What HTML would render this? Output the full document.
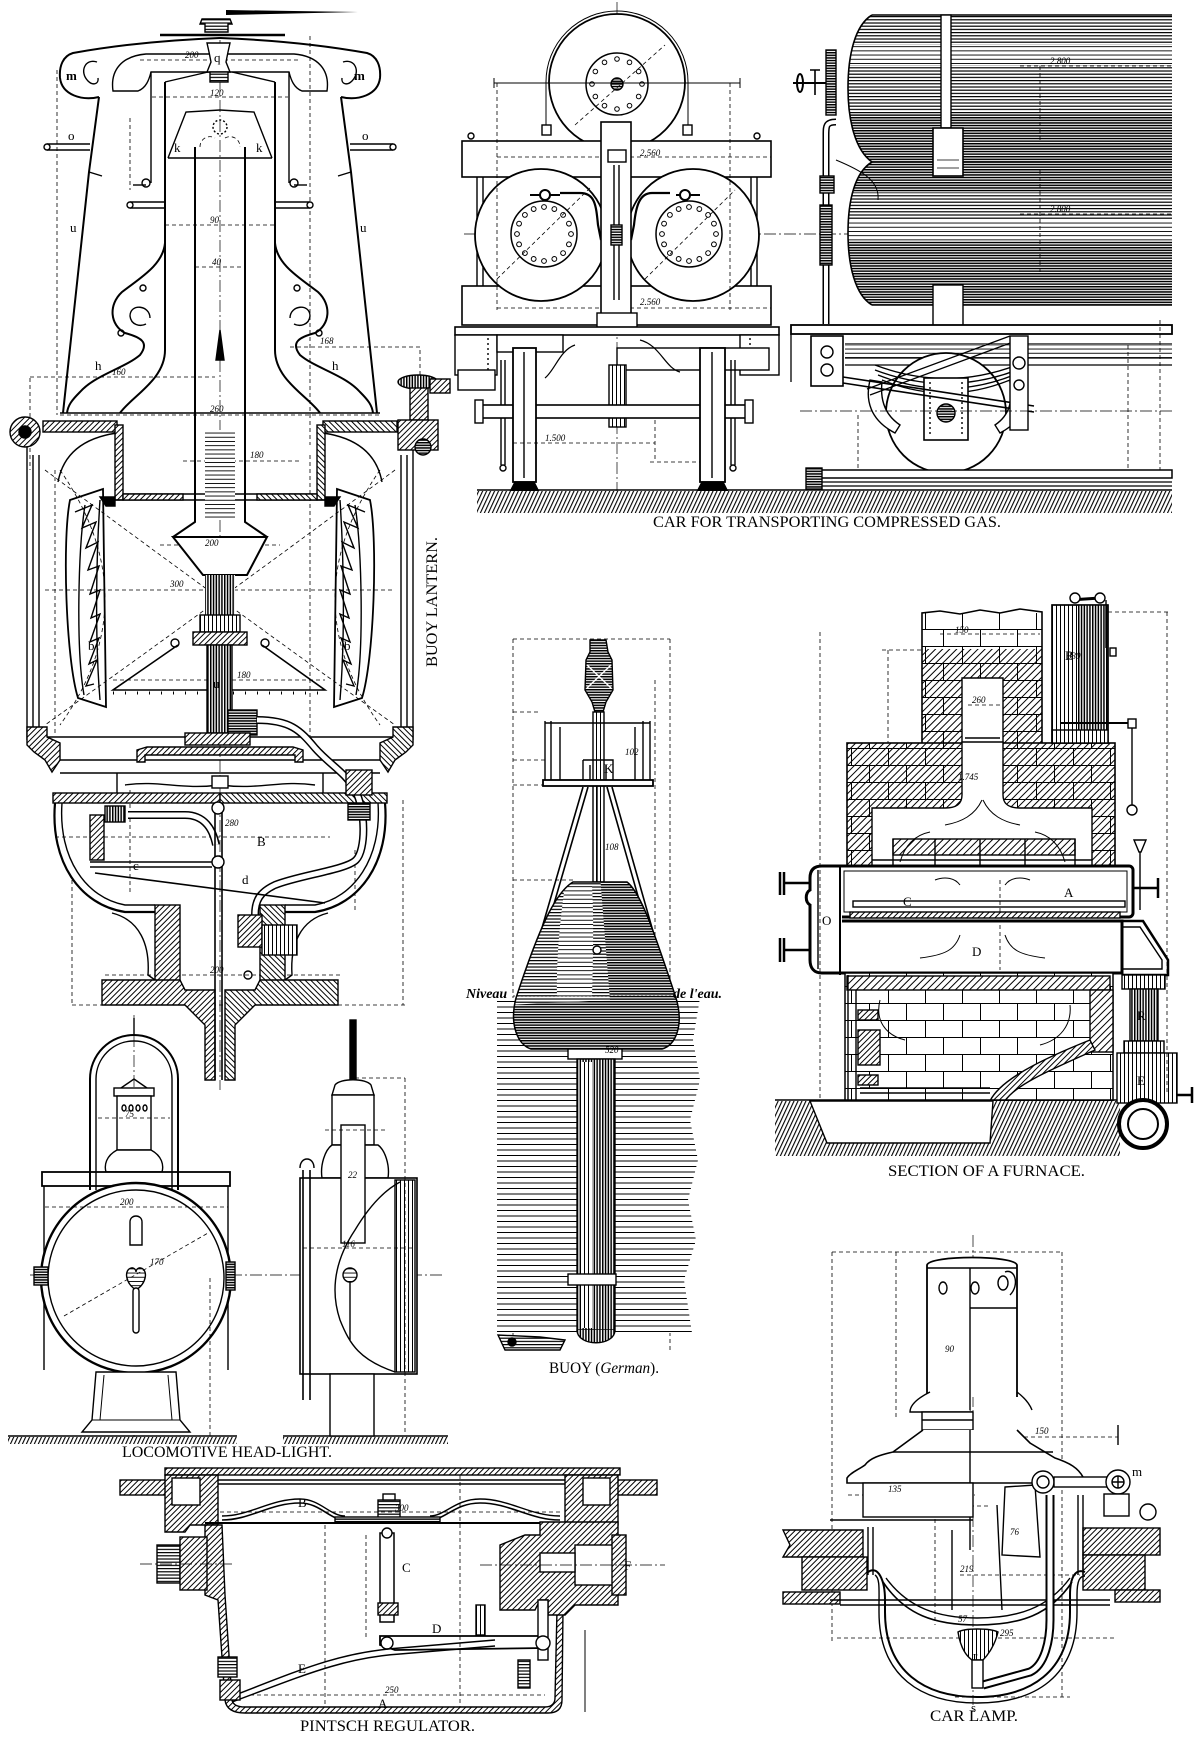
<!DOCTYPE html>
<html><head><meta charset="utf-8">
<style>
html,body{margin:0;padding:0;background:#fff;width:1200px;height:1737px;overflow:hidden}
svg{display:block}
.t{font-family:"Liberation Serif",serif;fill:#000;stroke:none}
.lb{font-size:16px}
.dm{font-size:9px;font-style:italic}
.lt{font-size:13px}
.ds{stroke-dasharray:4 3;stroke-width:.8}
.dd{stroke-dasharray:12 3 2 3;stroke-width:.7}
.th{stroke-width:.8}
</style></head><body>
<svg width="1200" height="1737" viewBox="0 0 1200 1737" xmlns="http://www.w3.org/2000/svg">
<defs>
<pattern id="ht" width="4" height="4" patternUnits="userSpaceOnUse" patternTransform="rotate(45)"><rect width="4" height="4" fill="#fff"/><rect width="1" height="4" fill="#000"/></pattern>
<pattern id="ht5" width="5" height="5" patternUnits="userSpaceOnUse" patternTransform="rotate(45)"><rect width="5" height="5" fill="#fff"/><rect width="1" height="5" fill="#000"/></pattern>
<pattern id="gr" width="3.6" height="4" patternUnits="userSpaceOnUse" patternTransform="rotate(25)"><rect width="3.6" height="4" fill="#fff"/><rect width="1.1" height="4" fill="#000"/></pattern>
<pattern id="hd" width="8" height="2.6" patternUnits="userSpaceOnUse"><rect width="8" height="2.6" fill="#fff"/><rect width="8" height="1.5" fill="#000"/></pattern>
<pattern id="hm" width="8" height="3.2" patternUnits="userSpaceOnUse"><rect width="8" height="3.2" fill="#fff"/><rect width="8" height="1.2" fill="#000"/></pattern>
<pattern id="hl" width="8" height="4.2" patternUnits="userSpaceOnUse"><rect width="8" height="4.2" fill="#fff"/><rect width="8" height="0.9" fill="#000"/></pattern>
<pattern id="wt" width="8" height="5.5" patternUnits="userSpaceOnUse"><rect width="8" height="5.5" fill="#fff"/><rect width="8" height="1" fill="#000"/></pattern>
<pattern id="vd" width="2.8" height="8" patternUnits="userSpaceOnUse"><rect width="2.8" height="8" fill="#fff"/><rect width="1.5" height="8" fill="#000"/></pattern>
<pattern id="vm" width="4" height="8" patternUnits="userSpaceOnUse"><rect width="4" height="8" fill="#fff"/><rect width="1" height="8" fill="#000"/></pattern>
<pattern id="br" width="74" height="34" patternUnits="userSpaceOnUse"><path d="M0,.5H74M0,17.5H74M.5,0V17M37.5,0V17M18.5,17V34M55.5,17V34" stroke="#000" stroke-width="1" fill="none"/></pattern>
<clipPath id="tc"><path d="M872,15 L1172,15 L1172,162 L872,162 C855,150 848,120 848,88 C848,55 855,25 872,15 Z M872,162 L1172,162 L1172,305 L872,305 C855,295 848,265 848,233 C848,200 855,172 872,162 Z"/></clipPath>
<clipPath id="cc"><path d="M573,882 L627,882 C640,892 652,925 676,998 C684,1025 676,1045 662,1049 L531,1049 C518,1045 509,1025 516,998 C540,925 556,892 573,882 Z"/></clipPath>
<g id="b12" fill="#fff" stroke="#000" stroke-width="1">
<circle cx="25" cy="0" r="2.3"/><circle cx="25" cy="0" r="2.3" transform="rotate(30)"/><circle cx="25" cy="0" r="2.3" transform="rotate(60)"/><circle cx="25" cy="0" r="2.3" transform="rotate(90)"/><circle cx="25" cy="0" r="2.3" transform="rotate(120)"/><circle cx="25" cy="0" r="2.3" transform="rotate(150)"/><circle cx="25" cy="0" r="2.3" transform="rotate(180)"/><circle cx="25" cy="0" r="2.3" transform="rotate(210)"/><circle cx="25" cy="0" r="2.3" transform="rotate(240)"/><circle cx="25" cy="0" r="2.3" transform="rotate(270)"/><circle cx="25" cy="0" r="2.3" transform="rotate(300)"/><circle cx="25" cy="0" r="2.3" transform="rotate(330)"/>
</g>
<g id="b16" fill="#fff" stroke="#000" stroke-width="1">
<circle cx="27" cy="0" r="2.4"/><circle cx="27" cy="0" r="2.4" transform="rotate(22.5)"/><circle cx="27" cy="0" r="2.4" transform="rotate(45)"/><circle cx="27" cy="0" r="2.4" transform="rotate(67.5)"/><circle cx="27" cy="0" r="2.4" transform="rotate(90)"/><circle cx="27" cy="0" r="2.4" transform="rotate(112.5)"/><circle cx="27" cy="0" r="2.4" transform="rotate(135)"/><circle cx="27" cy="0" r="2.4" transform="rotate(157.5)"/><circle cx="27" cy="0" r="2.4" transform="rotate(180)"/><circle cx="27" cy="0" r="2.4" transform="rotate(202.5)"/><circle cx="27" cy="0" r="2.4" transform="rotate(225)"/><circle cx="27" cy="0" r="2.4" transform="rotate(247.5)"/><circle cx="27" cy="0" r="2.4" transform="rotate(270)"/><circle cx="27" cy="0" r="2.4" transform="rotate(292.5)"/><circle cx="27" cy="0" r="2.4" transform="rotate(315)"/><circle cx="27" cy="0" r="2.4" transform="rotate(337.5)"/>
</g>
</defs>
<rect width="1200" height="1737" fill="#fff"/>

<g fill="none" stroke="#000" stroke-width="1.4">

<!-- ================= BUOY LANTERN ================= -->
<path class="ds" d="M57,70 V415 M310,36 V445 M420,350 V405 M55,470 V735 M310,455 V740 M140,60 H300 M152,97 H288 M165,225 H275 M195,267 H245 M290,347 H420 M30,377 H215 M60,415 H380 M183,461 H300 M45,590 H395 M160,545 H280 M72,880 V1005 M403,800 V1005 M72,1005 H405 M105,975 H340 M55,837 H330 M130,790 V895 M355,850 V910 M30,378 V470 M130,118 V190"/>
<path class="ds" d="M45,470 Q220,600 395,725 M395,470 Q220,600 45,725 M60,470 Q150,600 60,725 M380,470 Q290,600 380,725"/>
<path class="dd" d="M220,40 V1090"/>

<g id="LH">
<path d="M220,38 Q140,41 73,53 C63,56 59,66 60,78 C62,95 82,101 99,97" stroke-width="2"/>
<path d="M97,62 C85,58 79,72 88,81 C93,86 99,84 98,78"/>
<path d="M99,97 L89,172 L63,413" stroke-width="2"/>
<path d="M89,172 L102,176"/>
<path d="M220,54 L146,54 C122,56 110,70 113,91 L138,91 C146,88 149,80 151,72 L220,72"/>
<path d="M151,72 L151,183"/>
<path d="M165,82 L208,72"/>
<path d="M165,82 L165,350 C165,380 132,396 120,413" stroke-width="2"/>
<path d="M168,158 L186,112 L220,110 M168,158 L220,158"/>
<path d="M195,147 L195,522 L173,537" stroke-width="2"/>
<path d="M165,243 C163,265 140,278 122,292 C108,305 110,325 125,333 C140,337 150,342 140,355 C125,368 95,375 80,392 C72,400 68,405 67,413" stroke-width="2"/>
<path d="M150,318 C150,305 130,303 130,316 C131,325 140,327 146,324"/>
<circle cx="121" cy="333" r="3"/>
<circle cx="143" cy="288" r="3"/>
<path d="M47,144 L90,144 M47,150 L90,150"/>
<circle cx="47" cy="147" r="3" fill="#fff"/>
<path d="M130,202 L165,202 M130,208 L165,208"/>
<circle cx="130" cy="205" r="3" fill="#fff"/>
<circle cx="146" cy="183" r="4" fill="#fff"/>
<path d="M133,185 L146,185"/>
<line x1="60" y1="413" x2="220" y2="413"/>
<rect x="43" y="421" width="74" height="11" fill="url(#ht)"/>
<path d="M117,433 C82,438 63,455 58,482"/>
<rect x="115" y="425" width="8" height="75" fill="url(#ht)"/>
<path d="M115,500 L220,500 M123,494 L220,494"/>
<rect x="123" y="494" width="60" height="6" fill="url(#ht)"/>
<path d="M100,497 L115,497 L115,506 L106,506 Z" fill="#000"/>
<path d="M33,455 L33,730 M39,455 L39,730"/>
<path d="M27,440 L27,740"/>
<path d="M70,500 L103,489 L106,707 L78,698 C66,660 62,540 70,500 Z" stroke-width="1.8"/>
<path d="M75,512 L92,505 L82,528 L96,522 L86,548 L98,542 L88,570 L99,566 L90,594 L100,590 L91,618 L100,614 L90,642 L99,638 L89,664 L97,660 L86,686 L94,684" stroke-width="1.4"/>
<path d="M85,505 C78,550 76,650 84,695"/>
<path d="M100,500 C96,560 95,640 100,700"/>
<path d="M27,727 L47,727 L47,737 L60,743 L60,760 L52,772 L45,760 L34,752 L27,745 Z" fill="url(#ht)"/>
<line x1="47" y1="737" x2="220" y2="737"/>
<line x1="60" y1="760" x2="220" y2="760"/>
<path d="M60,773 L117,773 L117,793 M117,773 L220,773"/>
<rect x="53" y="793" width="167" height="10" fill="url(#ht)"/>
<path d="M55,803 C50,862 80,905 125,912 L155,912" stroke-width="2.2"/>
<path d="M62,803 C58,858 86,898 125,905 L155,905"/>
<rect x="155" y="905" width="25" height="78" fill="url(#ht)"/>
<path d="M112,913 C140,920 150,945 148,975 L155,980"/>
<path d="M102,980 L180,980 L185,990 L215,990 L215,1080 L205,1080 L205,1025 L185,1005 L102,1005 Z" fill="url(#ht)"/>
</g>
<use href="#LH" transform="translate(440,0) scale(-1,1)"/>

<path d="M202,19 L230,19 L232,24 L228,24 L228,32 L205,32 L205,24 L200,24 Z" fill="url(#hm)"/>
<line x1="160" y1="35" x2="285" y2="35" stroke-width="2.5"/>
<path d="M226,10 L358,12 L226,15 Z" fill="#000" stroke="none"/>
<path d="M207,43 L230,43 L228,52 L226,62 L230,72 L207,72 L211,62 L209,52 Z" fill="#fff"/>
<rect x="210" y="72" width="18" height="10" fill="url(#hm)"/>
<circle cx="220" cy="127" r="7" stroke-dasharray="2 2"/>
<path d="M200,147 A10,10 0 0 1 215,138 M225,138 A10,10 0 0 1 240,147" class="ds"/>
<rect x="205" y="430" width="30" height="88" fill="url(#hl)" stroke="none"/>
<path d="M220,330 L216,360 L224,360 Z" fill="#000"/>
<path d="M173,537 L267,537 L247,575 L203,575 Z" stroke-width="2" fill="#fff"/>
<rect x="205" y="575" width="30" height="40" fill="url(#vd)" stroke="none"/>
<rect x="200" y="615" width="40" height="17" fill="url(#vm)"/>
<rect x="193" y="632" width="54" height="13" fill="url(#ht)"/>
<circle cx="175" cy="643" r="4"/><circle cx="265" cy="643" r="4"/>
<path d="M178,645 L113,690 L325,690 L262,645" stroke-width="1.6"/>
<line x1="113" y1="693" x2="325" y2="693" stroke-dasharray="1 11" stroke-width="3"/>
<path class="ds" d="M113,680 H325"/>
<rect x="207" y="645" width="25" height="88" fill="url(#vd)"/>
<rect x="228" y="710" width="29" height="25" fill="url(#hd)"/>
<rect x="185" y="733" width="65" height="12" fill="url(#ht)"/>
<path d="M137,762 L137,750 L147,747 L293,747 L303,750 L303,762 L295,762 L295,755 L145,755 L145,762 Z" fill="url(#ht)"/>
<path d="M125,785 C160,780 180,790 220,785 C260,790 280,780 315,785"/>
<rect x="212" y="776" width="16" height="12" fill="#fff"/>
<path d="M257,720 C290,720 300,730 315,748 C330,765 345,772 355,790 C366,810 366,850 356,860 C346,870 300,875 275,885 C260,892 255,900 255,915" stroke-width="8"/>
<path d="M257,720 C290,720 300,730 315,748 C330,765 345,772 355,790 C366,810 366,850 356,860 C346,870 300,875 275,885 C260,892 255,900 255,915" stroke="#fff" stroke-width="5"/>
<path d="M128,815 L185,815 C205,815 213,830 216,845" stroke-width="8"/>
<path d="M128,815 L185,815 C205,815 213,830 216,845" stroke="#fff" stroke-width="5"/>
<rect x="346" y="770" width="26" height="25" fill="url(#ht)"/>
<rect x="348" y="803" width="22" height="17" fill="url(#hd)"/>
<path d="M215,805 L215,1080 M222,805 L222,1080" stroke-width="1.6"/>
<circle cx="218" cy="808" r="6" fill="#fff"/><circle cx="218" cy="862" r="6" fill="#fff"/>
<path d="M90,862 L212,862 M90,867 L212,867"/>
<path d="M95,873 L325,903" stroke-width="1.6"/>
<rect x="90" y="815" width="14" height="45" fill="url(#ht)"/>
<rect x="105" y="806" width="20" height="16" fill="url(#vd)"/>
<rect x="238" y="915" width="24" height="32" fill="url(#ht)"/>
<rect x="262" y="925" width="35" height="30" fill="url(#vm)"/>
<circle cx="248" cy="975" r="4"/>
<circle cx="25" cy="432" r="15" fill="url(#ht)"/><circle cx="25" cy="432" r="6" fill="#000"/>
<ellipse cx="418" cy="382" rx="20" ry="7" fill="url(#vd)"/>
<rect x="410" y="388" width="18" height="32" fill="url(#ht)"/>
<rect x="398" y="420" width="40" height="30" fill="url(#ht)"/>
<circle cx="423" cy="447" r="8" fill="url(#hd)"/>

<!-- ================= CAR ================= -->
<line class="dd" x1="617" y1="2" x2="617" y2="505"/>
<line class="dd" x1="464" y1="234" x2="1172" y2="234"/>
<path d="M546,131 L546,82 A71,71 0 0 1 688,82 L688,131" stroke-width="1"/>
<rect x="542" y="125" width="9" height="10" fill="#fff"/><rect x="683" y="125" width="9" height="10" fill="#fff"/>
<circle cx="617" cy="82" r="68" fill="#fff" stroke-width="1.8"/>
<circle cx="617" cy="84" r="31" stroke-width="1.5"/>
<use href="#b12" x="617" y="84"/>
<circle cx="617" cy="84" r="6" fill="url(#hd)"/>
<path class="ds" d="M575,125 L665,45"/>
<path d="M494,83 H740 M494,78 V88 M740,78 V88" stroke-width="1"/>
<rect x="462" y="141" width="309" height="36" fill="#fff" stroke-width="1.6"/>
<rect x="462" y="286" width="309" height="39" fill="#fff" stroke-width="1.6"/>
<path d="M477,177 V286 M483,177 V286 M751,177 V286 M757,177 V286"/>
<circle cx="471" cy="136" r="3" fill="#fff"/><circle cx="757" cy="136" r="3" fill="#fff"/>
<circle cx="541" cy="235" r="66" fill="#fff" stroke-width="1.8"/>
<circle cx="693" cy="235" r="66" fill="#fff" stroke-width="1.8"/>
<circle cx="544" cy="234" r="33" stroke-width="1.5"/>
<circle cx="689" cy="234" r="33" stroke-width="1.5"/>
<use href="#b16" x="544" y="234"/>
<use href="#b16" x="689" y="234"/>
<path class="ds" d="M497,279 L590,188 M645,279 L735,190 M497,157 H771 M497,308 H771 M497,83 V310 M730,83 V310"/>
<path d="M530,195 H560 M676,195 H700" stroke-width="2"/>
<circle cx="545" cy="195" r="5" fill="#fff" stroke-width="2"/><circle cx="685" cy="195" r="5" fill="#fff" stroke-width="2"/>
<path d="M560,193 L580,193 C595,193 596,205 598,225 L601,240 M670,193 L652,193 C640,193 636,205 634,225 L631,240" stroke-width="2.2"/>
<rect x="601" y="122" width="30" height="202" fill="#fff" stroke-width="1.6"/>
<path d="M614,165 V300 M619,165 V300"/>
<rect x="608" y="150" width="18" height="12" fill="#fff"/>
<rect x="611" y="225" width="11" height="20" fill="url(#hd)"/>
<rect x="597" y="313" width="40" height="17" fill="#fff"/>
<rect x="455" y="327" width="324" height="8" fill="#fff" stroke-width="1.6"/>
<rect x="455" y="335" width="42" height="40" fill="#fff"/>
<rect x="740" y="335" width="39" height="40" fill="#fff"/>
<line x1="488" y1="338" x2="488" y2="372" stroke-dasharray="2 3"/>
<line x1="750" y1="338" x2="750" y2="372" stroke-dasharray="2 3"/>
<rect x="497" y="335" width="66" height="17" fill="#fff"/>
<rect x="617" y="348" width="152" height="22" fill="#fff"/>
<rect x="609" y="365" width="17" height="62" fill="url(#vm)"/>
<path d="M575,345 C560,350 555,370 545,378 M640,340 C660,345 665,368 680,372" stroke-width="1.2"/>
<rect x="458" y="370" width="37" height="20" fill="#fff"/>
<rect x="430" y="379" width="20" height="14" fill="url(#ht)"/>
<path d="M501,360 V465 M505,360 V465 M731,360 V465 M735,360 V465"/>
<circle cx="503" cy="468" r="3"/><circle cx="733" cy="468" r="3"/>
<rect x="479" y="405" width="270" height="13" fill="#fff" stroke-width="1.6"/>
<rect x="475" y="400" width="8" height="23" fill="#fff"/><rect x="745" y="400" width="8" height="23" fill="#fff"/>
<rect x="513" y="348" width="23" height="134" fill="#fff" stroke-width="1.8"/>
<rect x="700" y="348" width="25" height="134" fill="#fff" stroke-width="1.8"/>
<path d="M524,352 V478 M712,352 V478"/>
<path d="M510,492 L515,482 L534,482 L539,492 Z M697,492 L702,482 L723,482 L728,492 Z" fill="#000"/>
<path class="ds" d="M513,443 H655 M655,420 V462 M650,462 H700"/>
<rect x="477" y="491" width="695" height="22" fill="url(#gr)" stroke="none"/>
<line x1="477" y1="490" x2="1172" y2="490" stroke-width="1.6"/>

<g clip-path="url(#tc)" stroke="none">
<rect x="840" y="10" width="340" height="300" fill="url(#hm)"/>
<rect x="840" y="45" width="340" height="20" fill="url(#hl)"/>
<rect x="840" y="114" width="340" height="48" fill="url(#hd)"/>
<rect x="840" y="162" width="340" height="31" fill="url(#hd)"/>
<rect x="840" y="220" width="340" height="21" fill="url(#hl)"/>
<rect x="840" y="241" width="340" height="64" fill="url(#hd)"/>
</g>
<path d="M872,15 L1172,15 M872,162 L1172,162 M872,305 L1172,305 M872,15 C855,25 848,55 848,88 C848,120 855,150 872,162 C855,172 848,200 848,233 C848,265 855,295 872,305" stroke-width="1.6"/>
<rect x="941" y="15" width="10" height="113" fill="#fff"/>
<rect x="933" y="128" width="30" height="48" fill="#fff" stroke-width="1.6"/>
<path d="M937,160 H959 M937,168 H959" stroke-width="0.8"/>
<rect x="933" y="285" width="30" height="42" fill="#fff"/>
<rect x="826" y="50" width="10" height="65" fill="url(#hd)"/>
<path d="M793,83 H826" stroke-width="2"/>
<ellipse cx="800" cy="83" rx="3" ry="9" stroke-width="2"/>
<path d="M815,70 V95 M810,70 H820" stroke-width="1.6"/>
<path d="M836,122 C826,122 826,126 826,135 L826,324" stroke-width="7"/>
<path d="M836,122 C826,122 826,126 826,135 L826,324" stroke="#fff" stroke-width="4"/>
<rect x="820" y="176" width="14" height="17" fill="url(#hd)"/>
<rect x="820" y="205" width="12" height="60" fill="url(#hd)"/>
<path d="M836,160 C860,170 880,180 878,200" stroke-width="1"/>
<rect x="791" y="325" width="381" height="9" fill="#fff" stroke-width="1.8"/>
<path d="M791,334 V382 M845,344 H1172 M845,358 H1172 M845,365 H1172" stroke-width="1.3"/>
<rect x="845" y="344" width="327" height="14" fill="url(#hl)" stroke="none"/>
<rect x="811" y="336" width="32" height="50" fill="#fff" stroke-width="1.6"/>
<circle cx="827" cy="352" r="6"/><circle cx="827" cy="370" r="6"/>
<circle cx="946" cy="413" r="60" fill="#fff" stroke-width="1.8"/>
<path d="M875,365 Q946,392 1017,365 M875,370 Q946,397 1017,370 M878,375 Q946,402 1014,375 M882,380 Q946,406 1010,380" stroke-width="1.3"/>
<rect x="924" y="378" width="44" height="62" fill="#fff" stroke-width="1.6"/>
<path d="M930,382 V436 M962,382 V436" stroke-dasharray="2 3"/>
<circle cx="946" cy="413" r="9" fill="url(#hd)"/>
<path d="M870,380 C865,400 870,420 895,433 L900,425 C885,415 880,400 882,382 Z" fill="#fff"/>
<path d="M1022,380 C1030,400 1025,420 1000,433 L995,425 C1010,415 1013,400 1010,382 Z" fill="#fff"/>
<path d="M843,377 L1034,406 M843,383 L1034,412" stroke-width="1.6"/>
<path d="M867,389 L1010,336 M870,395 L1013,342" stroke-width="1.3"/>
<rect x="1010" y="336" width="18" height="94" fill="#fff"/>
<circle cx="1019" cy="363" r="6" fill="#fff"/><circle cx="1019" cy="385" r="5" fill="#fff"/>
<line class="dd" x1="800" y1="411" x2="1172" y2="411"/>
<rect x="810" y="470" width="362" height="8" fill="#fff" stroke-width="1.5"/>
<path d="M810,482 H1172 M810,486 H1172" stroke-width="1.2"/>
<rect x="806" y="468" width="16" height="21" fill="url(#hd)"/>
<path class="ds" d="M1128,345 V470 M858,415 V468 M1160,320 V470 M1040,66 V140 M1040,170 V275 M1020,66 H1172 M1020,214 H1172"/>

<!-- ================= BUOY (German) ================= -->
<path class="ds" d="M513,639 H670 M513,639 V1350 M670,639 V1350 M513,712 H540 M513,760 H545 M513,785 H548 M513,880 H575 M655,680 V1000"/>
<path d="M497,998 L700,998 L693,1040 L700,1080 L690,1120 L698,1160 L688,1200 L696,1240 L684,1280 L692,1333 L497,1333 Z" fill="url(#wt)" stroke="none"/>
<path d="M590,640 L606,640 L608,652 L612,660 L613,690 L606,702 L603,712 L595,712 L592,702 L585,690 L586,660 L590,652 Z" fill="url(#hd)"/>
<path d="M587,665 L611,688 M611,665 L587,688" stroke="#fff" stroke-width="1.5"/>
<rect x="593" y="712" width="11" height="170" fill="url(#vm)"/>
<path d="M545,723 H650 M545,721 V785 M551,721 V785 M643,721 V785 M650,721 V785 M560,727 V780 M635,727 V780"/>
<rect x="543" y="780" width="110" height="6" fill="#fff" stroke-width="1.8"/>
<path d="M583,760 H613 V780 M583,760 V780 M590,765 V780 M606,765 V780"/>
<path d="M583,787 L537,945 M588,787 L542,945 M612,787 L656,942 M607,787 L651,942" stroke-width="1.6"/>
<path d="M597,786 V945"/>
<g clip-path="url(#cc)" stroke="none">
<rect x="505" y="875" width="180" height="180" fill="url(#hm)"/>
<path d="M600,875 L690,875 L690,1055 L505,1055 L505,1005 L610,1000 Z" fill="url(#hd)"/>
<path d="M565,885 C560,920 556,960 557,997 L592,997 C593,960 594,920 592,885 Z" fill="url(#hl)"/>
</g>
<path d="M573,882 L627,882 C640,892 652,925 676,998 C684,1025 676,1045 662,1049 L531,1049 C518,1045 509,1025 516,998 C540,925 556,892 573,882 Z" stroke-width="1.5"/>
<line x1="513" y1="996" x2="680" y2="996" stroke-dasharray="2 2" stroke-width="0.8"/>
<circle cx="597" cy="950" r="4" fill="#fff"/>
<rect x="568" y="1049" width="54" height="10" fill="#fff"/>
<rect x="577" y="1059" width="38" height="271" fill="url(#vd)"/>
<rect x="580" y="1062" width="12" height="266" fill="url(#vm)" stroke="none"/>
<path d="M577,1330 C577,1347 615,1347 615,1330" fill="url(#vd)"/>
<rect x="568" y="1274" width="48" height="11" fill="#fff"/>
<path d="M498,1335 L505,1350 L560,1350 L565,1340 L540,1337 Z" fill="url(#hm)"/>
<circle cx="512" cy="1342" r="4" fill="#000"/>

<!-- ================= FURNACE ================= -->
<rect x="922" y="613" width="120" height="130" fill="#fff" stroke="none"/>
<rect x="922" y="649" width="120" height="94" fill="url(#ht5)" stroke="none"/>
<rect x="922" y="613" width="120" height="130" fill="url(#br)" stroke="none"/>
<rect x="962" y="678" width="41" height="70" fill="#fff" stroke="none"/>
<path d="M922,743 V613 L940,611 L960,614 L980,610 L1000,613 L1020,609 L1042,612 V743" stroke-width="1.6"/>
<path d="M962,743 V678 H1003 V743 M965,738 H1000"/>
<rect x="847" y="743" width="268" height="123" fill="url(#ht5)" stroke="none"/>
<rect x="847" y="743" width="268" height="123" fill="url(#br)" stroke-width="1.6"/>
<path d="M962,742 L1003,742 L1003,795 C1003,805 1010,808 1020,808 L1092,808 L1092,866 L872,866 L872,808 L945,808 C955,808 962,805 962,795 Z" fill="#fff" stroke-width="1.4"/>
<rect x="893" y="839" width="182" height="16" fill="url(#ht5)"/>
<path d="M893,839 V866 M1075,839 V866 M872,860 H1092 M935,839 V866 M980,839 V866 M1025,839 V866"/>
<path d="M982,800 C975,815 962,822 945,825 M983,800 C990,815 1003,822 1020,825 M900,862 C905,845 915,835 930,832 M1065,862 C1060,845 1050,835 1035,832" stroke-width="1"/>
<rect x="838" y="866" width="295" height="51" rx="4" fill="#fff" stroke-width="3"/>
<rect x="844" y="871" width="283" height="41" stroke-width="1"/>
<rect x="853" y="901" width="272" height="6" fill="#fff" stroke-width="1.4"/>
<rect x="850" y="912" width="270" height="6" fill="url(#ht)"/>
<rect x="838" y="921" width="284" height="52" fill="#fff" stroke-width="3"/>
<path d="M1122,921 L1143,921 L1168,960 L1168,975 L1122,975" stroke-width="2.5"/>
<path d="M1122,927 L1140,927 L1162,960 L1162,969 L1122,969"/>
<path d="M960,885 C955,878 945,876 935,880 M1005,885 C1010,878 1020,876 1030,880 M960,935 C955,950 945,955 920,958 M1005,935 C1010,950 1020,955 1045,958" stroke-width="1"/>
<path d="M842,866 L822,866 C814,866 810,870 810,878 L810,890 C805,893 805,902 810,905 L810,960 C810,968 814,973 822,973 L842,973" stroke-width="3" fill="#fff"/>
<path d="M818,870 L818,969"/>
<path d="M840,866 V975" stroke-width="2"/>
<path d="M784,872 V895 M780,872 V895 M784,883 H810 M784,938 V962 M780,938 V962 M784,950 H810" stroke-width="2.5"/>
<path d="M1133,888 H1158 M1158,878 V898" stroke-width="2.5"/>
<rect x="845" y="973" width="268" height="128" fill="#fff" stroke="none"/>
<rect x="845" y="973" width="268" height="128" fill="url(#br)" stroke-width="1.5"/>
<rect x="847" y="976" width="263" height="14" fill="url(#ht5)"/>
<rect x="1090" y="990" width="23" height="62" fill="url(#ht5)"/>
<path d="M990,1101 C1000,1080 1040,1060 1090,1040 L1095,1050 C1050,1070 1015,1085 1005,1101 Z" fill="url(#ht)" stroke-width="1.4"/>
<path d="M848,975 V1101 M856,990 V1101"/>
<rect x="858" y="1010" width="20" height="10" fill="url(#ht)"/>
<rect x="858" y="1030" width="22" height="35" fill="url(#ht)"/>
<rect x="858" y="1075" width="20" height="10" fill="url(#ht)"/>
<path d="M860,1088 H990 M860,1093 H990"/>
<path d="M880,1000 C875,1020 885,1035 905,1040 M1070,1005 C1072,1025 1060,1040 1040,1045" stroke-width="1"/>
<path d="M775,1101 H1120 V1156 H775 Z" fill="url(#gr)" stroke="none"/>
<path d="M810,1101 L993,1101 L990,1143 L827,1143 Z" fill="#fff"/>
<line x1="775" y1="1100" x2="1120" y2="1100" stroke-width="1.5"/>
<rect x="1122" y="975" width="43" height="14" fill="url(#vm)"/>
<rect x="1130" y="989" width="28" height="52" fill="url(#vd)"/>
<rect x="1124" y="1041" width="40" height="12" fill="url(#vm)"/>
<rect x="1117" y="1053" width="60" height="50" fill="url(#vm)"/>
<circle cx="1143" cy="1124" r="24" fill="#fff" stroke-width="4"/>
<circle cx="1143" cy="1124" r="15" stroke-width="2"/>
<path d="M1177,1095 H1192 M1192,1087 V1103" stroke-width="2.5"/>
<rect x="1052" y="605" width="56" height="138" fill="url(#vm)"/>
<rect x="1078" y="605" width="30" height="138" fill="url(#vd)" stroke="none"/>
<rect x="1052" y="605" width="56" height="138" stroke-width="1.5"/>
<rect x="1052" y="730" width="56" height="13" fill="url(#vm)"/>
<path d="M1070,600 L1100,598" stroke-width="3"/>
<circle cx="1075" cy="598" r="5" fill="#fff"/><circle cx="1100" cy="598" r="5" fill="#fff"/>
<path d="M1106,600 V648"/><rect x="1110" y="648" width="6" height="8"/>
<path d="M1060,723 H1130" stroke-width="2"/><rect x="1128" y="719" width="8" height="9" fill="#fff"/>
<path d="M1132,728 V805"/><circle cx="1132" cy="810" r="5"/>
<path d="M1134,840 L1146,840 L1141,852 L1139,852 Z M1140,852 V910"/>
<path class="ds" d="M820,632 V1101 M888,650 V743 M1167,612 V1095 M882,650 H922 M1108,612 H1170 M940,634 H1040 M968,705 H1000 M1000,880 V915 M1000,925 V970"/>

<!-- ================= HEADLIGHT ================= -->
<line class="dd" x1="134" y1="1015" x2="134" y2="1440"/>
<line class="dd" x1="30" y1="1275" x2="445" y2="1275"/>
<path d="M121,1088 L134,1079 L147,1088" stroke-width="1.4"/>
<rect x="114" y="1088" width="40" height="8" fill="#fff"/>
<rect x="117" y="1096" width="34" height="54" fill="#fff"/>
<ellipse cx="124" cy="1108" rx="2" ry="3"/><ellipse cx="131" cy="1108" rx="2" ry="3"/><ellipse cx="138" cy="1108" rx="2" ry="3"/><ellipse cx="145" cy="1108" rx="2" ry="3"/>
<path d="M117,1150 C106,1156 104,1165 106,1172 L162,1172 C164,1165 162,1156 151,1150 Z" fill="#fff"/>
<rect x="42" y="1172" width="188" height="14" fill="#fff" stroke-width="1.8"/>
<path d="M44,1186 V1370 M228,1186 V1370"/>
<path d="M90,1190 L90,1079 A44,44 0 0 1 178,1079 L178,1190" stroke-width="2"/>
<path d="M96,1190 L96,1079 A38,38 0 0 1 172,1079 L172,1190"/>
<line x1="134" y1="1018" x2="134" y2="1035" stroke-width="1.4"/>
<circle cx="136" cy="1278" r="95" fill="#fff" stroke-width="2.4"/>
<circle cx="136" cy="1278" r="88" stroke-width="1.4"/>
<rect x="34" y="1267" width="14" height="18" fill="url(#hd)"/>
<rect x="226" y="1262" width="9" height="28" fill="url(#hd)"/>
<path d="M130,1245 V1222 C130,1214 142,1214 142,1222 V1245 Z" fill="#fff"/>
<path d="M136,1290 C125,1283 124,1270 131,1268 C134,1267 136,1270 136,1272 C136,1270 138,1267 141,1268 C148,1270 147,1283 136,1290 Z" fill="url(#hl)"/>
<rect x="133" y="1288" width="6" height="45" rx="3" fill="#fff"/>
<path class="ds" d="M45,1207 H228 M64,1316 L208,1233 M98,1118 H170 M210,1278 V1437"/>
<path d="M96,1372 L92,1420 L82,1432 L190,1432 L180,1420 L176,1372 Z" fill="#fff"/>
<path d="M104,1375 L100,1420 M168,1375 L172,1420 M92,1420 H180" stroke-width="1"/>
<rect x="8" y="1437" width="229" height="7" fill="url(#gr)" stroke="none"/>
<rect x="283" y="1437" width="165" height="7" fill="url(#gr)" stroke="none"/>
<path d="M8,1436 H237 M283,1436 H448" stroke-width="1.6"/>
<rect x="350" y="1020" width="6" height="60" fill="#000"/>
<path d="M335,1085 C340,1078 366,1078 371,1085 L374,1095 L332,1095 Z" fill="#fff"/>
<rect x="332" y="1095" width="42" height="50" fill="#fff"/>
<path d="M332,1145 C325,1150 320,1165 322,1178 L388,1178 C390,1165 385,1150 378,1145 Z" fill="#fff"/>
<rect x="300" y="1178" width="117" height="196" fill="#fff" stroke-width="1.6"/>
<rect x="395" y="1180" width="20" height="192" fill="url(#vm)"/>
<rect x="341" y="1125" width="24" height="118" fill="#fff"/>
<path d="M400,1182 C385,1190 370,1205 355,1230 C335,1260 330,1290 340,1320 C350,1345 360,1360 395,1372"/>
<path d="M303,1170 L303,1400 M310,1170 L310,1400" stroke-width="1.6"/>
<path d="M300,1168 C300,1156 314,1156 314,1168"/>
<circle cx="350" cy="1275" r="7" fill="url(#hl)"/>
<path d="M350,1282 V1340"/>
<rect x="330" y="1374" width="44" height="62" fill="#fff"/>
<path class="ds" d="M405,1078 V1435 M355,1078 H405 M303,1248 H415 M325,1130 H385"/>

<!-- ================= PINTSCH REGULATOR ================= -->
<rect x="165" y="1468" width="455" height="7" fill="url(#ht)"/>
<rect x="120" y="1480" width="48" height="15" fill="url(#ht)"/>
<rect x="615" y="1480" width="42" height="15" fill="url(#ht)"/>
<path d="M165,1475 L218,1475 L218,1525 L190,1525 L185,1532 L165,1532 Z" fill="url(#ht)"/>
<rect x="172" y="1478" width="28" height="27" fill="#fff"/>
<path d="M565,1475 L618,1475 L618,1525 L565,1525 Z" fill="url(#ht)"/>
<rect x="583" y="1478" width="27" height="27" fill="#fff"/>
<path d="M218,1480 H565 M218,1484 H565"/>
<path d="M205,1523 H565" stroke-width="2"/>
<path d="M222,1520 C250,1520 270,1503 300,1503 C320,1503 330,1520 345,1520 L430,1520 C445,1520 455,1503 480,1503 C510,1503 530,1520 560,1520" stroke-width="1.6"/>
<path d="M222,1516 C250,1516 270,1499 300,1499 C320,1499 330,1516 345,1516 M430,1516 C445,1516 455,1499 480,1499 C510,1499 530,1516 560,1516"/>
<rect x="378" y="1500" width="22" height="18" fill="url(#hm)"/>
<rect x="383" y="1494" width="12" height="6" fill="#fff"/>
<rect x="335" y="1517" width="105" height="5" fill="url(#hd)"/>
<path d="M205,1525 L222,1525 L225,1595 L232,1700 C233,1705 238,1707 245,1707 L545,1707 C552,1707 555,1703 555,1698 L557,1610 L563,1610 L562,1700 C562,1710 556,1713 548,1713 L245,1713 C232,1713 226,1708 225,1700 L218,1600 L205,1595 Z" fill="url(#ht)"/>
<rect x="157" y="1545" width="23" height="38" fill="url(#hm)"/>
<rect x="180" y="1537" width="27" height="53" fill="url(#ht)"/>
<path d="M500,1545 L525,1535 L540,1535 L540,1522 L618,1522 L618,1605 L575,1605 L565,1615 L548,1615 L548,1600 L540,1600 L535,1610 L500,1610 Z" fill="url(#ht)"/>
<rect x="575" y="1545" width="38" height="40" fill="#fff"/>
<rect x="540" y="1553" width="35" height="19" fill="#fff"/>
<rect x="612" y="1535" width="14" height="60" fill="url(#ht)"/>
<rect x="380" y="1533" width="14" height="89" fill="#fff" stroke-width="1.5"/>
<circle cx="387" cy="1533" r="5" fill="#fff"/>
<rect x="378" y="1603" width="20" height="12" fill="url(#ht)"/>
<path d="M380,1636 L545,1636 L545,1648 L395,1650 L380,1645 Z" fill="#fff" stroke-width="1.8"/>
<circle cx="387" cy="1643" r="6" fill="#fff"/>
<rect x="538" y="1600" width="10" height="60" fill="#fff"/>
<circle cx="543" cy="1643" r="7" fill="#fff"/>
<rect x="476" y="1605" width="9" height="30" fill="url(#vm)"/>
<rect x="518" y="1660" width="12" height="28" fill="url(#hm)"/>
<path d="M230,1697 C300,1670 340,1652 400,1648 L495,1640 M232,1702 C302,1676 342,1658 400,1654 L495,1646" stroke-width="1.5"/>
<rect x="220" y="1680" width="20" height="20" fill="url(#ht)"/>
<rect x="218" y="1657" width="19" height="20" fill="url(#hm)"/>
<path class="ds" d="M325,1525 V1707 M460,1475 V1707 M366,1535 V1640 M250,1695 H545 M220,1512 H560"/>
<path class="dd" d="M140,1564 H235 M480,1565 H665"/>
<path d="M585,1630 V1712" stroke-width="1"/>

<!-- ================= CAR LAMP ================= -->
<path class="ds" d="M832,1252 V1643 M1062,1252 V1697 M832,1252 H1062 M896,1252 V1420 M935,1505 V1625 M930,1355 H1012 M975,1437 H1118 M848,1495 H975 M837,1638 H1115 M955,1697 H1070 M935,1506 H990 M960,1575 H1080"/>
<line class="dd" x1="973" y1="1235" x2="973" y2="1705"/>
<path d="M1118,1425 V1445"/>
<path d="M927,1397 L927,1265 C930,1255 1014,1255 1017,1265 L1017,1397" stroke-width="1.8" fill="#fff"/>
<path d="M927,1268 H1017 M970,1308 H1017 M970,1268 V1550"/>
<ellipse cx="943" cy="1288" rx="4" ry="6"/><ellipse cx="975" cy="1288" rx="4" ry="6"/><ellipse cx="1003" cy="1283" rx="5" ry="7"/>
<path d="M1005,1272 C1015,1268 1020,1285 1010,1295"/>
<path d="M930,1392 C918,1398 910,1405 910,1412 L973,1412" fill="#fff"/>
<path d="M1017,1392 C1025,1398 1030,1405 1032,1410"/>
<rect x="922" y="1412" width="51" height="18" fill="#fff"/>
<path d="M922,1420 H973"/>
<path d="M923,1430 L893,1452 C880,1455 870,1458 865,1465 C858,1470 850,1473 847,1478 L847,1483 L1083,1483 L1083,1477 C1078,1468 1070,1463 1055,1458 L1030,1443 L1017,1430" fill="#fff" stroke-width="1.6"/>
<path d="M893,1452 H1053"/>
<path d="M970,1430 V1483"/>
<rect x="863" y="1483" width="110" height="34" fill="#fff"/>
<path d="M783,1530 L863,1530 L863,1557 L783,1557 L790,1545 Z" fill="url(#ht)"/>
<rect x="802" y="1557" width="65" height="33" fill="url(#ht)"/>
<rect x="783" y="1592" width="57" height="12" fill="url(#ht)"/>
<rect x="1083" y="1528" width="77" height="27" fill="url(#ht)"/>
<rect x="1083" y="1555" width="62" height="35" fill="url(#ht)"/>
<rect x="1115" y="1590" width="45" height="12" fill="url(#ht)"/>
<path d="M830,1520 H973 M830,1600 H1110 M840,1605 H1110 M868,1527 V1575 M873,1527 V1575 M1078,1495 V1575 M1083,1495 V1575"/>
<path d="M952,1530 V1610 M997,1505 L1002,1610"/>
<path d="M1005,1487 L1035,1485 L1040,1557 L1002,1555 Z" fill="#fff"/>
<path d="M868,1572 C878,1565 885,1580 885,1600 L885,1612 C885,1672 925,1697 977,1697 C1030,1697 1070,1672 1070,1612 L1070,1595 C1070,1578 1075,1568 1085,1572" stroke-width="2"/>
<path d="M875,1575 C880,1578 879,1590 879,1605 L879,1612 C879,1677 922,1703 977,1703 C1035,1703 1077,1677 1077,1612 L1077,1595 C1077,1580 1080,1576 1085,1576"/>
<path d="M883,1582 C905,1615 935,1625 977,1625 C1020,1625 1050,1615 1072,1582" stroke-width="1.6"/>
<path d="M886,1578 C908,1608 938,1618 977,1618 C1018,1618 1048,1608 1070,1578"/>
<path d="M983,1685 L1030,1672 C1045,1665 1050,1640 1050,1620 L1050,1495" stroke-width="9"/>
<path d="M983,1685 L1030,1672 C1045,1665 1050,1640 1050,1620 L1050,1495" stroke="#fff" stroke-width="5"/>
<path d="M958,1632 C965,1628 990,1628 998,1632 C995,1645 988,1655 983,1660 L972,1660 C965,1655 960,1645 958,1632 Z" fill="url(#vm)"/>
<rect x="972" y="1660" width="11" height="28" fill="#fff"/>
<circle cx="1043" cy="1482" r="11" fill="#fff"/><circle cx="1043" cy="1482" r="6"/>
<rect x="1054" y="1477" width="55" height="10" fill="#fff"/>
<circle cx="1118" cy="1482" r="12" fill="#fff"/><circle cx="1118" cy="1482" r="6"/>
<path d="M1112,1482 H1124 M1118,1476 V1488"/>
<rect x="1104" y="1494" width="25" height="22" fill="#fff"/>
<circle cx="1148" cy="1512" r="8"/>
</g>

<!-- ================= TEXT ================= -->
<g class="t">
<text class="lb" x="653" y="527" textLength="348" lengthAdjust="spacingAndGlyphs">CAR FOR TRANSPORTING COMPRESSED GAS.</text>
<text class="lb" x="888" y="1176" textLength="197" lengthAdjust="spacingAndGlyphs">SECTION OF A FURNACE.</text>
<text class="lb" x="549" y="1373" textLength="110" lengthAdjust="spacingAndGlyphs">BUOY (<tspan font-style="italic">German</tspan>).</text>
<text class="lb" x="122" y="1457" textLength="210" lengthAdjust="spacingAndGlyphs">LOCOMOTIVE HEAD-LIGHT.</text>
<text class="lb" x="300" y="1731" textLength="175" lengthAdjust="spacingAndGlyphs">PINTSCH REGULATOR.</text>
<text class="lb" x="930" y="1721" textLength="88" lengthAdjust="spacingAndGlyphs">CAR LAMP.</text>
<text class="lb" transform="translate(437,667) rotate(-90)" x="0" y="0" textLength="130" lengthAdjust="spacingAndGlyphs">BUOY LANTERN.</text>
<text x="466" y="998" font-size="14" font-style="italic" font-weight="bold">Niveau</text>
<text x="673" y="998" font-size="14" font-style="italic" font-weight="bold">de l'eau.</text>
<text class="lt" x="604" y="773">K</text>
<text class="lt" x="1065" y="660">B</text>
<text class="lt" x="1064" y="897">A</text>
<text class="lt" x="903" y="906">C</text>
<text class="lt" x="972" y="956">D</text>
<text class="lt" x="822" y="925">O</text>
<text class="lt" x="1137" y="1020">R</text>
<text class="lt" x="1137" y="1085">E</text>
<text class="lt" x="257" y="846">B</text>
<text class="lt" x="133" y="870">c</text>
<text class="lt" x="242" y="884">d</text>
<text class="lt" x="66" y="80" font-weight="bold">m</text>
<text class="lt" x="354" y="80" font-weight="bold">m</text>
<text class="lt" x="68" y="140">o</text>
<text class="lt" x="362" y="140">o</text>
<text class="lt" x="70" y="232">u</text>
<text class="lt" x="360" y="232">u</text>
<text class="lt" x="95" y="370">h</text>
<text class="lt" x="332" y="370">h</text>
<text class="lt" x="174" y="152">k</text>
<text class="lt" x="256" y="152">k</text>
<text class="lt" x="214" y="62">q</text>
<text class="lt" x="88" y="650">b</text>
<text class="lt" x="344" y="650">b</text>
<text class="lt" x="213" y="688">u</text>
<text class="lt" x="298" y="1507">B</text>
<text class="lt" x="402" y="1572">C</text>
<text class="lt" x="432" y="1633">D</text>
<text class="lt" x="298" y="1673">E</text>
<text class="lt" x="378" y="1708">A</text>
<text class="lt" x="624" y="1570">F</text>
<text class="lt" x="1132" y="1476">m</text>
<text class="lt" x="973" y="1660">r</text>
<text class="lt" x="971" y="1712" font-size="10">s</text>
<text class="dm" x="185" y="58">200</text>
<text class="dm" x="210" y="96">120</text>
<text class="dm" x="210" y="223">90</text>
<text class="dm" x="212" y="265">40</text>
<text class="dm" x="320" y="344">168</text>
<text class="dm" x="112" y="375">160</text>
<text class="dm" x="210" y="412">260</text>
<text class="dm" x="250" y="458">180</text>
<text class="dm" x="170" y="587">300</text>
<text class="dm" x="205" y="546">200</text>
<text class="dm" x="237" y="678">180</text>
<text class="dm" x="225" y="826">280</text>
<text class="dm" x="210" y="973">200</text>
<text class="dm" x="640" y="156">2.560</text>
<text class="dm" x="640" y="305">2.560</text>
<text class="dm" x="1050" y="64">2.800</text>
<text class="dm" x="1050" y="212">2.800</text>
<text class="dm" x="545" y="441">1.500</text>
<text class="dm" x="955" y="633">150</text>
<text class="dm" x="972" y="703">260</text>
<text class="dm" x="958" y="780">1.745</text>
<text class="dm" x="1067" y="659">330</text>
<text class="dm" x="120" y="1205">200</text>
<text class="dm" x="150" y="1265">170</text>
<text class="dm" x="125" y="1117">75</text>
<text class="dm" x="342" y="1247">116</text>
<text class="dm" x="348" y="1178">22</text>
<text class="dm" x="395" y="1511">300</text>
<text class="dm" x="385" y="1693">250</text>
<text class="dm" x="945" y="1352">90</text>
<text class="dm" x="1035" y="1434">150</text>
<text class="dm" x="888" y="1492">135</text>
<text class="dm" x="960" y="1572">219</text>
<text class="dm" x="958" y="1622">57</text>
<text class="dm" x="1000" y="1636">295</text>
<text class="dm" x="1010" y="1535">76</text>
<text class="dm" x="605" y="1053">520</text>
<text class="dm" x="625" y="755">102</text>
<text class="dm" x="605" y="850">108</text>
</g>
</svg>
</body></html>
